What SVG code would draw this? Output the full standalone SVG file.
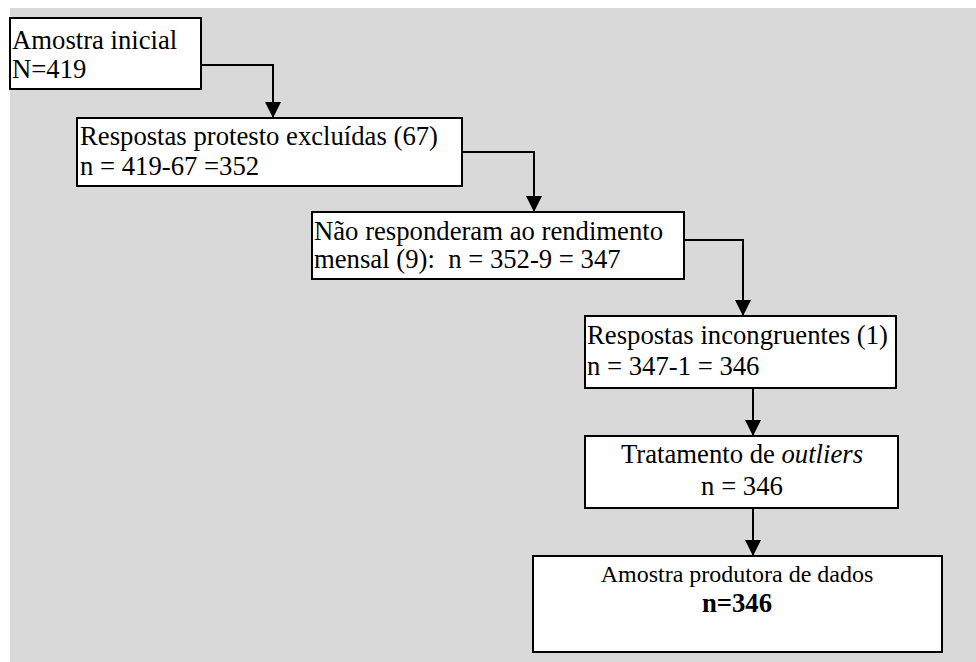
<svg xmlns="http://www.w3.org/2000/svg" width="976" height="662" viewBox="0 0 976 662">
  <defs>
    <marker id="arrow" markerWidth="17" markerHeight="17" refX="16" refY="8" orient="auto" markerUnits="userSpaceOnUse">
      <path d="M0,0 L16,8 L0,16 Z" fill="#000"/>
    </marker>
    <style>
      .box { fill: #fff; stroke: #000; stroke-width: 2; }
      .lbl { font-size: 26.7px; fill: #000; }
      .sm { font-size: 24px; }
      .ctr { text-anchor: middle; }
      .link { fill: none; stroke: #000; stroke-width: 2; marker-end: url(#arrow); }
    </style>
  </defs>

  <!-- canvas -->
  <rect x="10" y="8" width="966" height="654" fill="#d9d9d9"/>

  <g id="connectors">
    <path class="link" d="M201,65 H273 V118"/>
    <path class="link" d="M462,152 H534 V212"/>
    <path class="link" d="M684,240 H743 V316"/>
    <path class="link" d="M753,388 V436"/>
    <path class="link" d="M753,508 V556"/>
  </g>

  <g font-family="'Liberation Serif', 'Times New Roman', Times, 'DejaVu Serif', serif">
    <g id="amostra-inicial">
      <rect class="box" x="10" y="18" width="191" height="71"/>
      <text class="lbl" x="12" y="49">Amostra inicial</text>
      <text class="lbl" x="12" y="78">N=419</text>
    </g>

    <g id="protesto">
      <rect class="box" x="77" y="118" width="385" height="68"/>
      <text class="lbl" x="80" y="145">Respostas protesto excluídas (67)</text>
      <text class="lbl" x="80" y="175">n = 419-67 =352</text>
    </g>

    <g id="rendimento">
      <rect class="box" x="312" y="212" width="372" height="67"/>
      <text class="lbl" x="314" y="240">Não responderam ao rendimento</text>
      <text class="lbl" x="314" y="268" xml:space="preserve">mensal (9):  n = 352-9 = 347</text>
    </g>

    <g id="incongruentes">
      <rect class="box" x="585" y="316" width="311" height="72"/>
      <text class="lbl" x="587" y="344">Respostas incongruentes (1)</text>
      <text class="lbl" x="587" y="375">n = 347-1 = 346</text>
    </g>

    <g id="outliers">
      <rect class="box" x="585" y="436" width="313" height="72"/>
      <text class="lbl ctr" x="742" y="463">Tratamento de <tspan font-style="italic">outliers</tspan></text>
      <text class="lbl ctr" x="742" y="495">n = 346</text>
    </g>

    <g id="amostra-final">
      <rect class="box" x="533" y="556" width="409" height="96" stroke-width="2.5"/>
      <text class="lbl sm ctr" x="737" y="582">Amostra produtora de dados</text>
      <text class="lbl ctr" x="737" y="612" font-size="26px" font-weight="bold">n=346</text>
    </g>
  </g>
</svg>
